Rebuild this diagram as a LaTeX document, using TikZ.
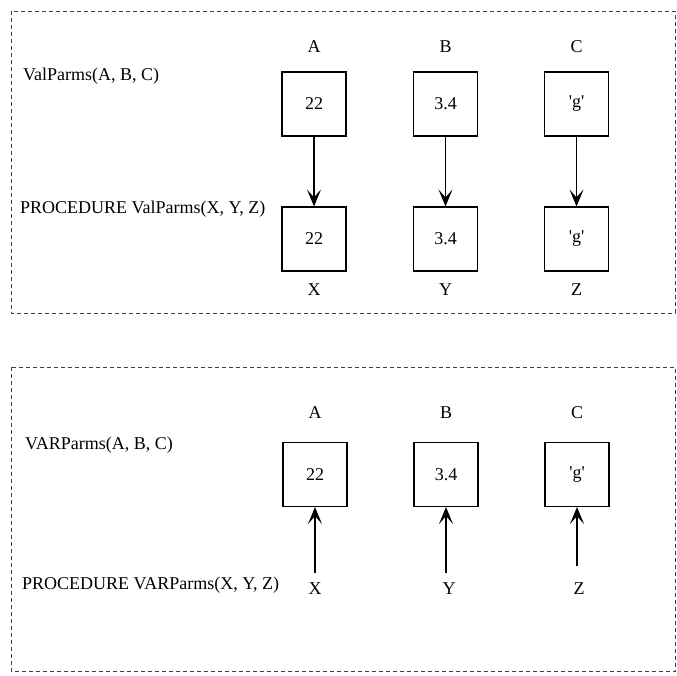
\documentclass[tikz,border=0pt]{standalone}
\usepackage{fontspec}
\setmainfont{Liberation Serif}
\usetikzlibrary{arrows.meta}
\begin{document}
\begin{tikzpicture}[x=1pt,y=-1pt,
 frame/.style={draw=black!75, dash pattern=on 4pt off 3pt, line width=0.8pt},
 cell/.style={draw, line width=1.1pt, minimum width=64pt, minimum height=64pt, inner sep=0pt, font=\fontsize{18}{21}\selectfont},
 lbl/.style={inner sep=0pt, font=\fontsize{18}{21}\selectfont},
 arr/.style={line width=1.1pt, -{Stealth[length=17pt,width=14pt,inset=8pt]}}]
\useasboundingbox (0,0) rectangle (677,675);
% frames
\draw[frame] (11,11) rectangle (675,313);
\draw[frame] (11,367) rectangle (675.5,671);
% top part
\node[lbl, anchor=west] (vcall) at (23,76) {ValParms(A, B, C)};
\node[lbl, anchor=west] (vproc) at (20,209) {PROCEDURE ValParms(X, Y, Z)};
\node[cell] (a1) at (314,104) {22};
\node[cell] (b1) at (445.5,104) {3.4};
\node[cell] (c1) at (576.5,104) {\textquotesingle g\textquotesingle};
\node[cell] (x1) at (314,239) {22};
\node[cell] (y1) at (445.5,239) {3.4};
\node[cell] (z1) at (576.5,239) {\textquotesingle g\textquotesingle};
\node[lbl] (la1) at (314,47) {A};
\node[lbl] (lb1) at (445.5,47) {B};
\node[lbl] (lc1) at (576.5,47) {C};
\node[lbl] (lx1) at (314,290) {X};
\node[lbl] (ly1) at (445.5,290) {Y};
\node[lbl] (lz1) at (576.5,290) {Z};
\draw[arr] (a1) -- (x1);
\draw[arr] (b1) -- (y1);
\draw[arr] (c1) -- (z1);
% bottom part
\node[lbl, anchor=west] (rcall) at (25,445) {VARParms(A, B, C)};
\node[lbl, anchor=west] (rproc) at (22,585) {PROCEDURE VARParms(X, Y, Z)};
\node[cell] (a2) at (315,474.5) {22};
\node[cell] (b2) at (446,474.5) {3.4};
\node[cell] (c2) at (577,474.5) {\textquotesingle g\textquotesingle};
\node[lbl] (la2) at (315,413) {A};
\node[lbl] (lb2) at (446,413) {B};
\node[lbl] (lc2) at (577,413) {C};
\node[lbl] (lx2) at (315,589) {X};
\node[lbl] (ly2) at (449,589) {Y};
\node[lbl] (lz2) at (579,589) {Z};
\coordinate (sx) at (315,573);
\coordinate (sy) at (446,573);
\coordinate (sz) at (577,566);
\draw[arr] (sx) -- (sx |- a2.south);
\draw[arr] (sy) -- (sy |- b2.south);
\draw[arr] (sz) -- (sz |- c2.south);
\end{tikzpicture}
\end{document}
